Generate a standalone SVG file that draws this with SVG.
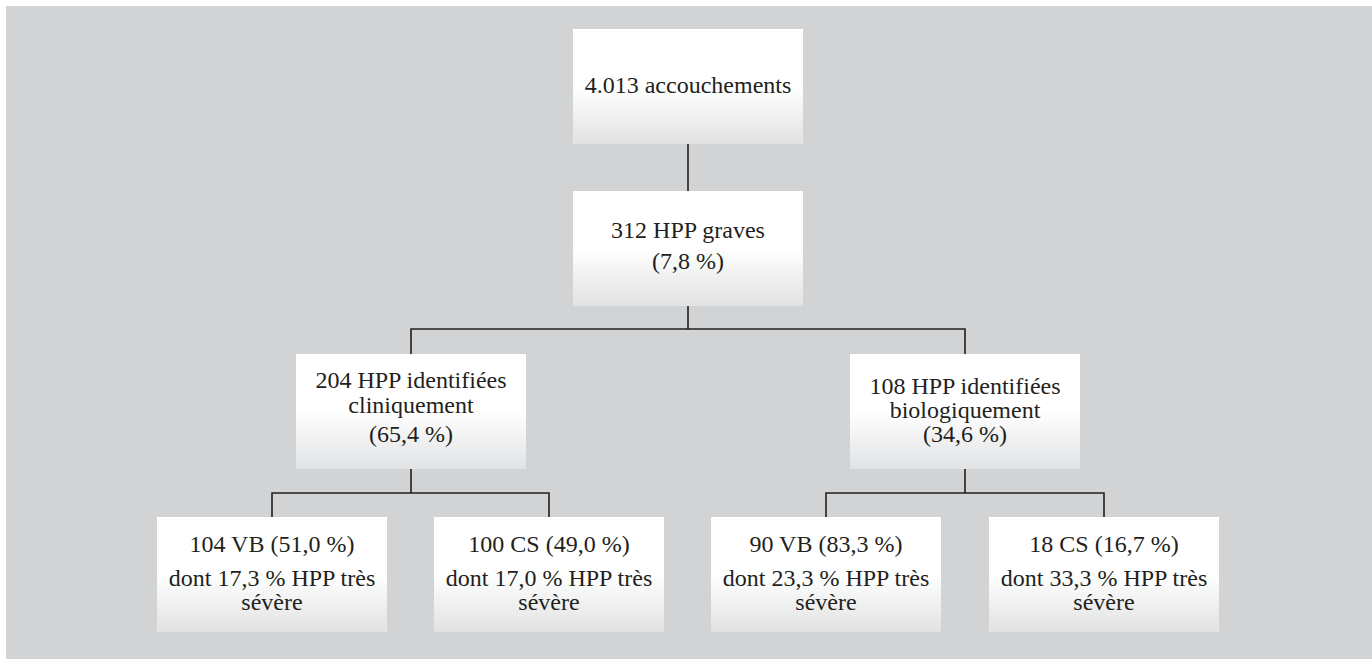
<svg xmlns="http://www.w3.org/2000/svg" width="1372" height="659" viewBox="0 0 1372 659">
<defs>
<linearGradient id="boxg" x1="0" y1="0" x2="0" y2="1">
<stop offset="0" stop-color="#ffffff"/>
<stop offset="0.5" stop-color="#ffffff"/>
<stop offset="1" stop-color="#e1e2e3"/>
</linearGradient>
<style>
.box{fill:url(#boxg);}
.t{font-family:'Liberation Serif','DejaVu Serif','Times New Roman',serif;font-size:24px;fill:#231f20;text-anchor:middle;}
.c{stroke:#231f20;stroke-width:1.6;fill:none;}
</style>
</defs>
<rect x="0" y="0" width="1372" height="659" fill="#ffffff"/>
<rect x="6" y="6" width="1366" height="653" fill="#d1d3d4"/>
<g id="connectors">
<path class="c" d="M688 144V191"/>
<path class="c" d="M688 306V329M411 354V329H965V354"/>
<path class="c" d="M411 469V493M272 517V493H549V517"/>
<path class="c" d="M965 469V493M826 517V493H1104V517"/>
</g>
<g font-family="Liberation Serif, DejaVu Serif, serif">
<g id="n1">
<rect class="box" x="573" y="29" width="230" height="115"/>
<text class="t" x="688" y="93">4.013 accouchements</text>
</g>
<g id="n2">
<rect class="box" x="573" y="191" width="230" height="115"/>
<text class="t" x="688" y="238">312 HPP graves</text>
<text class="t" x="688" y="269">(7,8 %)</text>
</g>
<g id="n3">
<rect class="box" x="296" y="354" width="230" height="115"/>
<text class="t" x="411" y="388">204 HPP identifiées</text>
<text class="t" x="411" y="412.5">cliniquement</text>
<text class="t" x="411" y="442">(65,4 %)</text>
</g>
<g id="n4">
<rect class="box" x="850" y="354" width="230" height="115"/>
<text class="t" x="965" y="394">108 HPP identifiées</text>
<text class="t" x="965" y="417.5">biologiquement</text>
<text class="t" x="965" y="442">(34,6 %)</text>
</g>
<g id="n5">
<rect class="box" x="157" y="517" width="230" height="115"/>
<text class="t" x="272" y="552">104 VB (51,0 %)</text>
<text class="t" x="272" y="586">dont 17,3 % HPP très</text>
<text class="t" x="272" y="610">sévère</text>
</g>
<g id="n6">
<rect class="box" x="434" y="517" width="230" height="115"/>
<text class="t" x="549" y="552">100 CS (49,0 %)</text>
<text class="t" x="549" y="586">dont 17,0 % HPP très</text>
<text class="t" x="549" y="610">sévère</text>
</g>
<g id="n7">
<rect class="box" x="711" y="517" width="230" height="115"/>
<text class="t" x="826" y="552">90 VB (83,3 %)</text>
<text class="t" x="826" y="586">dont 23,3 % HPP très</text>
<text class="t" x="826" y="610">sévère</text>
</g>
<g id="n8">
<rect class="box" x="989" y="517" width="230" height="115"/>
<text class="t" x="1104" y="552">18 CS (16,7 %)</text>
<text class="t" x="1104" y="586">dont 33,3 % HPP très</text>
<text class="t" x="1104" y="610">sévère</text>
</g>
</g>
</svg>
